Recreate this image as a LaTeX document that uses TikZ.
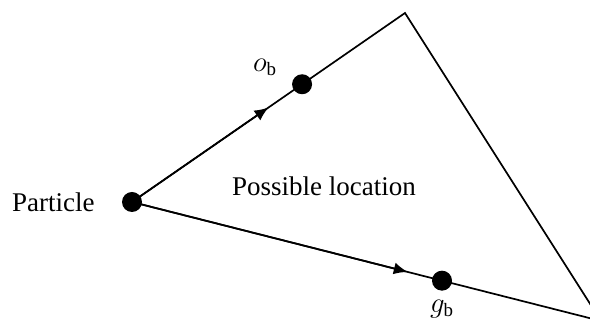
\documentclass[tikz,border=0pt]{standalone}
\usepackage{amsmath}
\usepackage{fontspec}
\setmainfont{Liberation Serif}
\usetikzlibrary{arrows.meta,positioning,calc}

\begin{document}
\begin{tikzpicture}[
  x=0.5pt, y=-0.5pt, font=\fontsize{13.5}{16}\selectfont, >={Latex[length=7pt,width=6pt]},
  dot/.style={circle, fill, inner sep=0pt, minimum size=10pt},
  edge/.style={line width=0.85pt}]
  \useasboundingbox (0,0) rectangle (590,325);
  \coordinate (top) at (405,13);
  \coordinate (corner) at (601,321);
  \node[dot] (part) at (132,202) {};
  \node[dot] (ob) at ($(part)!0.623!(top)$) {};
  \node[dot] (gb) at ($(part)!0.661!(corner)$) {};
  \draw[edge] (part.center) -- (top) -- (corner) -- (part.center);
  \draw[edge, ->] (part.center) -- ($(part)!0.5!(top)$);
  \draw[edge, ->] (part.center) -- ($(part)!0.588!(corner)$);
  \node[left=10pt of part] (plabel) {Particle};
  \node (region) at (324,186) {Possible location};
  \node (oblabel) at ($(ob)+(-37,-17)$) {$o_{\text{b}}$};
  \node[below=1pt of gb] (gblabel) {$g_{\text{b}}$};
\end{tikzpicture}
\end{document}
